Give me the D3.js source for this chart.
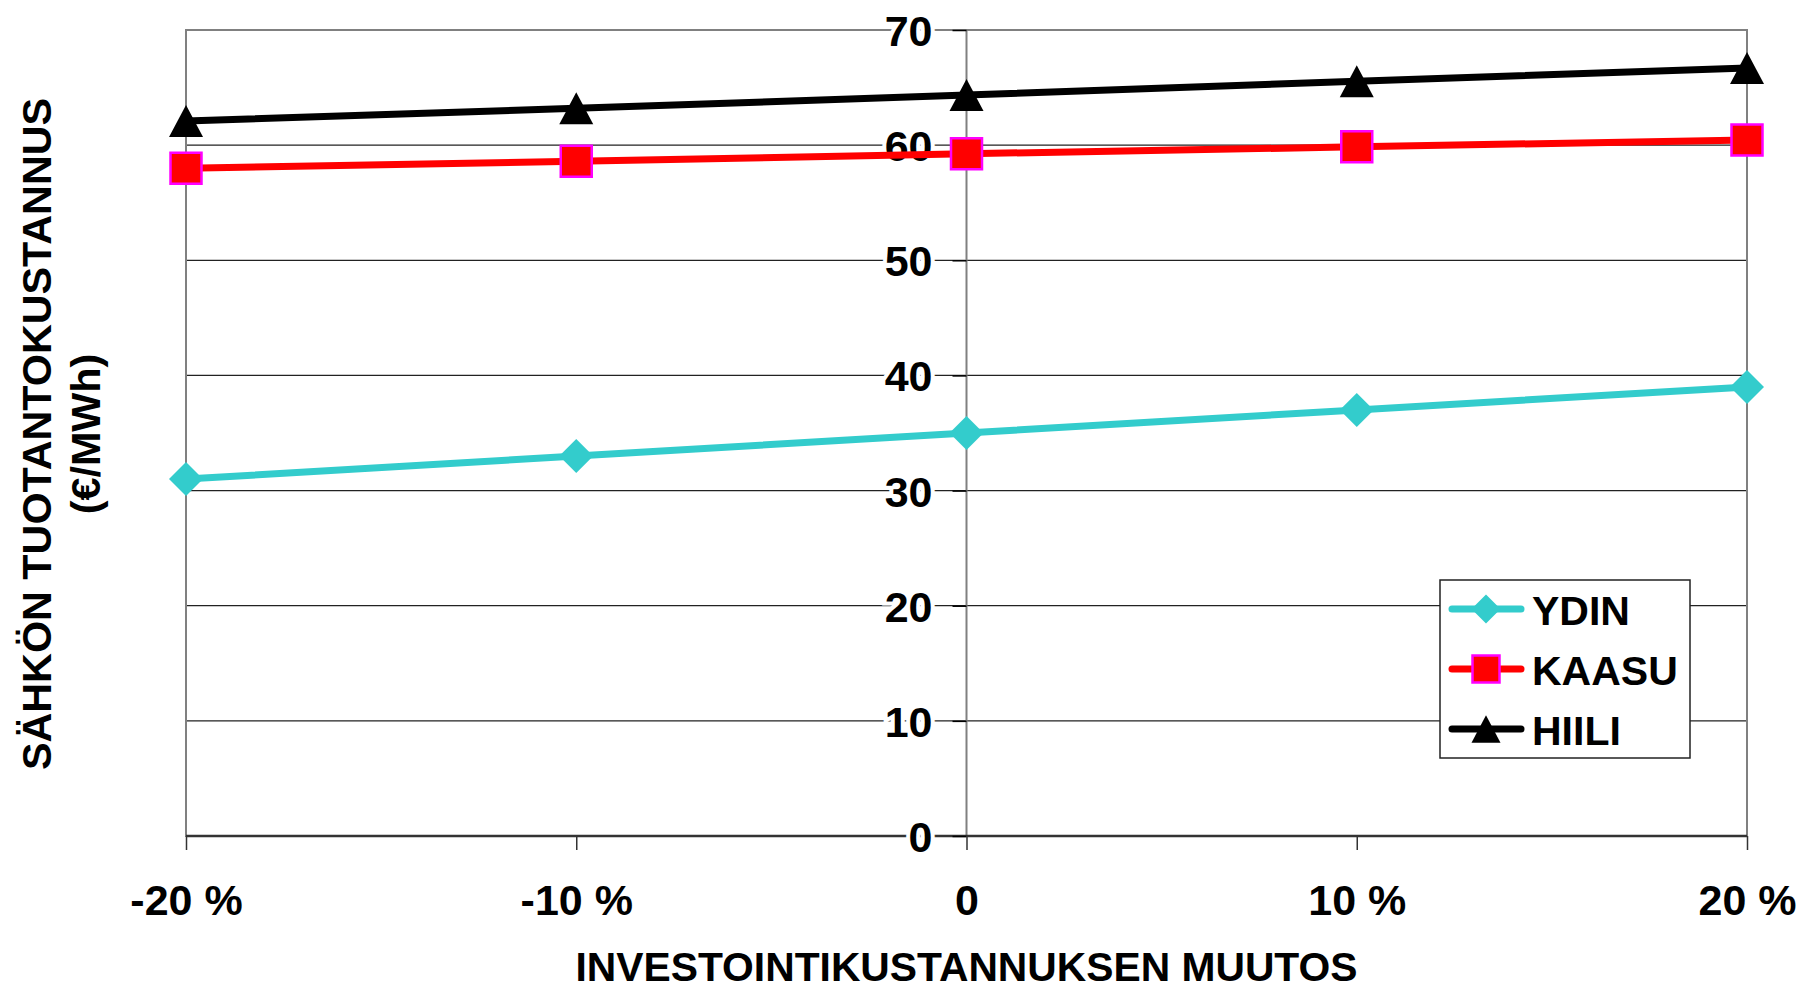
<!DOCTYPE html>
<html><head><meta charset="utf-8">
<script src="https://cdn.jsdelivr.net/npm/d3@7"></script>
<style>
body{margin:0;background:#fff}
svg{display:block}
text{font-family:"Liberation Sans",Arial,Helvetica,sans-serif;font-weight:bold;fill:#000}
</style>
</head><body>
<svg id="c" width="1801" height="990"></svg>
<script>
// ---- data ----
const categories = ["-20 %", "-10 %", "0", "10 %", "20 %"];
const seriesNames = ["YDIN", "KAASU", "HIILI"];
const ydin  = [31.0, 33.0, 35.0, 37.0, 39.0];
const kaasu = [58.0, 58.6, 59.25, 59.85, 60.45];
const hiili = [62.1, 63.2, 64.35, 65.55, 66.7];
const yTicks = [0, 10, 20, 30, 40, 50, 60, 70];
const xTitle = "INVESTOINTIKUSTANNUKSEN MUUTOS";
const yTitle1 = "SÄHKÖN TUOTANTOKUSTANNUS";
const yTitle2 = "(€/MWh)";

// ---- layout ----
const svg = d3.select("#c");
const L = 186, R = 1747, T = 30, B = 836;
const x = d3.scalePoint().domain(categories).range([L, R]).padding(0);
const y = d3.scaleLinear().domain([0, 70]).range([B, T]);
const axisX = x("0");

// custom symbols
const diamond = {draw(ctx, size){ const h = Math.sqrt(size)/2; ctx.moveTo(0,-h); ctx.lineTo(h,0); ctx.lineTo(0,h); ctx.lineTo(-h,0); ctx.closePath(); }};
const square = {draw(ctx, size){ const h = Math.sqrt(size)/2; ctx.rect(-h,-h,2*h,2*h); }};
const triangle = {draw(ctx, size){ const w = Math.sqrt(size)/2; const hh = w*0.94; ctx.moveTo(0,-hh); ctx.lineTo(w,hh); ctx.lineTo(-w,hh); ctx.closePath(); }};

const series = [
  {name: seriesNames[0], values: ydin,  color: "#33CCCC", sym: diamond,  fill: "#33CCCC", stroke: "none", sw: 0},
  {name: seriesNames[1], values: kaasu, color: "#FF0000", sym: square,   fill: "#FF0000", stroke: "#FF00FF", sw: 2.5},
  {name: seriesNames[2], values: hiili, color: "#000000", sym: triangle, fill: "#000000", stroke: "none", sw: 0}
];

// gridlines
svg.append("g").selectAll("line").data(yTicks.filter(d => d > 0 && d < 70)).join("line")
  .attr("x1", L).attr("x2", R).attr("y1", d => y(d)).attr("y2", d => y(d))
  .attr("stroke", "#222").attr("stroke-width", 1.2);

// plot border (gray)
svg.append("rect").attr("x", L).attr("y", T).attr("width", R - L).attr("height", B - T)
  .attr("fill", "none").attr("stroke", "#808080").attr("stroke-width", 2);

// vertical y axis at 0
svg.append("line").attr("x1", axisX).attr("x2", axisX).attr("y1", T).attr("y2", B)
  .attr("stroke", "#808080").attr("stroke-width", 2);
// x axis line
svg.append("line").attr("x1", L).attr("x2", R).attr("y1", B).attr("y2", B)
  .attr("stroke", "#333").attr("stroke-width", 2.5);

// y ticks & labels
const yAxis = d3.axisLeft(y).tickValues(yTicks).tickSize(14).tickPadding(20).tickFormat(d3.format("d"));
const gy = svg.append("g").attr("transform", `translate(${axisX},0)`).call(yAxis);
gy.select(".domain").remove();
gy.selectAll(".tick line").attr("stroke", "#000").attr("stroke-width", 1.5);
gy.selectAll(".tick text").attr("font-size", 43).attr("font-family", null).attr("fill", "#000")
  .attr("stroke", "#fff").attr("stroke-width", 8).attr("paint-order", "stroke").attr("dy", "0.36em");

// x ticks & labels
const xAxis = d3.axisBottom(x).tickSize(14).tickPadding(0).tickFormat(d => d);
const gx = svg.append("g").attr("transform", `translate(0,${B})`).call(xAxis);
gx.select(".domain").remove();
gx.selectAll(".tick line").attr("stroke", "#333").attr("stroke-width", 1.5);
gx.selectAll(".tick text").attr("font-size", 43).attr("font-family", null).attr("fill", "#000")
  .attr("y", 79).attr("dy", 0);

// series lines and markers
const line = d3.line().x((d, i) => x(categories[i])).y(d => y(d));
series.forEach(s => {
  svg.append("path").datum(s.values).attr("d", line).attr("fill", "none")
    .attr("stroke", s.color).attr("stroke-width", 7).attr("stroke-linejoin", "round");
});
series.forEach(s => {
  svg.append("g").selectAll("path").data(s.values).join("path")
    .attr("transform", (d, i) => `translate(${x(categories[i])},${y(d)})`)
    .attr("d", d3.symbol().type(s.sym).size(s.sym === square ? 31*31 : 34*34))
    .attr("fill", s.fill).attr("stroke", s.stroke).attr("stroke-width", s.sw);
});

// legend
const lg = svg.append("g");
lg.append("rect").attr("x", 1440).attr("y", 580).attr("width", 250).attr("height", 178)
  .attr("fill", "#fff").attr("stroke", "#222").attr("stroke-width", 1.5);
const rowY = [609, 669, 729];
series.forEach((s, i) => {
  const g = lg.append("g").attr("transform", `translate(0,${rowY[i]})`);
  g.append("line").attr("x1", 1452).attr("x2", 1521).attr("y1", 0).attr("y2", 0)
    .attr("stroke", s.color).attr("stroke-width", 7).attr("stroke-linecap", "round");
  g.append("path").attr("transform", "translate(1486,0)")
    .attr("d", d3.symbol().type(s.sym).size(s.sym === square ? 27*27 : 29*29))
    .attr("fill", s.fill).attr("stroke", s.stroke).attr("stroke-width", s.sw);
  g.append("text").attr("x", 1532).attr("y", 16).attr("font-size", 41).text(s.name);
});

// axis titles
svg.append("text").attr("x", (L + R) / 2).attr("y", 981).attr("text-anchor", "middle")
  .attr("font-size", 40.8).text(xTitle);
svg.append("text").attr("transform", "translate(51,434) rotate(-90)").attr("text-anchor", "middle")
  .attr("font-size", 41.3).text(yTitle1);
svg.append("text").attr("transform", "translate(100,434) rotate(-90)").attr("text-anchor", "middle")
  .attr("font-size", 41.3).text(yTitle2);
</script>
</body></html>
